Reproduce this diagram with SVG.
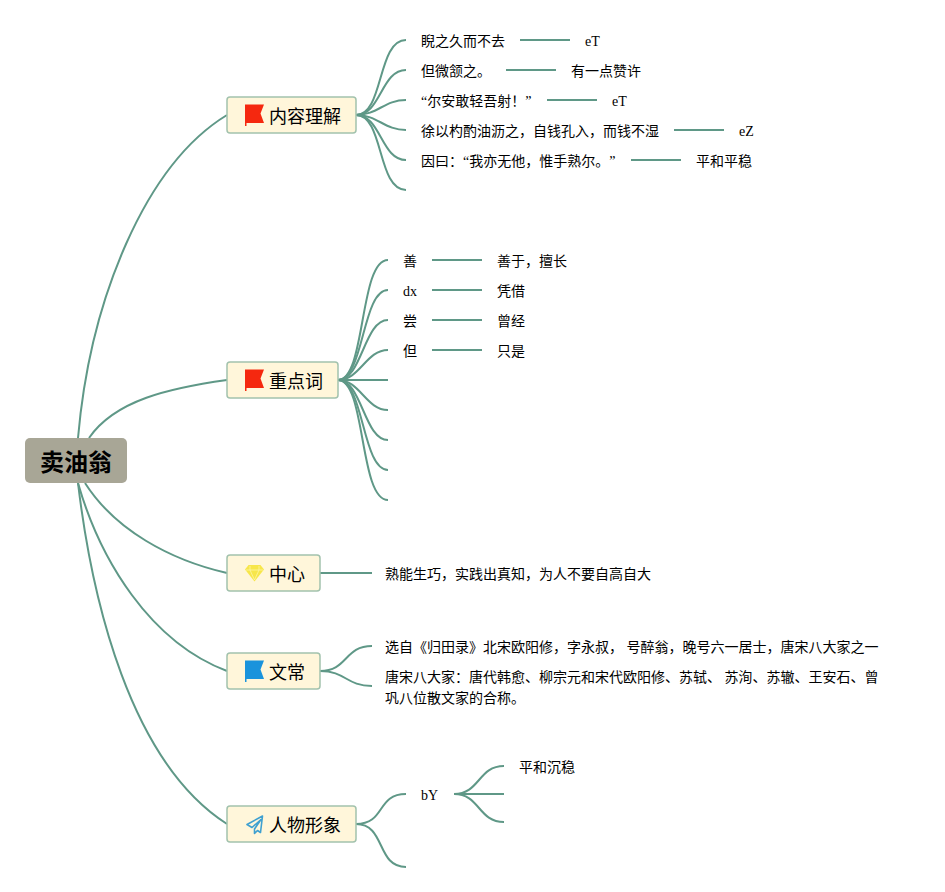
<svg xmlns="http://www.w3.org/2000/svg" width="945" height="892" viewBox="0 0 945 892">
<style>
text{font-family:"Liberation Serif","Noto Sans CJK SC",serif;fill:#000;font-size:14px;text-spacing-trim:space-all}
.t{font-size:18px;font-family:"Noto Sans CJK SC",sans-serif}
.r{font-size:24px;font-weight:700;font-family:"Noto Sans CJK SC",sans-serif;text-anchor:middle}
.n{fill:#fff6da;stroke:#a2c2ad;stroke-width:1.5}
#connectors path{fill:none;stroke:#5f9887;stroke-width:2}
</style>
<rect width="945" height="892" fill="#fff"/>
<g id="connectors">
<path d="M78 438C90 300 145 165 227 115"/>
<path d="M89 438C115 400 170 388 227 380"/>
<path d="M85 483C115 530 170 560 227 573"/>
<path d="M78 483C100 560 150 642 227 671"/>
<path d="M78 483C92 600 130 762 227 824"/>
<path d="M356 115C384 115 377 40 406 40"/>
<path d="M356 115C381 115 381 70 406 70"/>
<path d="M356 115C378 115 384 100 406 100"/>
<path d="M356 115C378 115 384 130 406 130"/>
<path d="M356 115C381 115 381 160 406 160"/>
<path d="M356 115C384 115 377 190 406 190"/>
<path d="M338 380C366 380 359 260 388 260"/>
<path d="M338 380C364 380 362 290 388 290"/>
<path d="M338 380C362 380 364 320 388 320"/>
<path d="M338 380C360 380 366 350 388 350"/>
<path d="M338 380H388"/>
<path d="M338 380C360 380 366 410 388 410"/>
<path d="M338 380C362 380 364 440 388 440"/>
<path d="M338 380C364 380 362 470 388 470"/>
<path d="M338 380C366 380 359 500 388 500"/>
<path d="M320 573H372"/>
<path d="M320 671C348 671 344 646 372 646"/>
<path d="M320 671C346 671 346 686 372 686"/>
<path d="M356 824C386 824 376 794 406 794"/>
<path d="M356 824C386 824 376 867 406 867"/>
<path d="M454 794C480 794 478 766 504 766"/>
<path d="M454 794H504"/>
<path d="M454 794C480 794 478 822 504 822"/>
<path d="M520 40H570"/><path d="M506 70H556"/><path d="M547 100H597"/><path d="M674 130H724"/><path d="M631 160H681"/>
<path d="M432 260H482"/><path d="M432 290H482"/><path d="M432 320H482"/><path d="M432 350H482"/>
</g>
<g id="root"><rect x="25" y="438" width="102" height="45" rx="5" fill="#a8a696"/><text class="r" x="76" y="471">卖油翁</text></g>
<g id="node-content"><rect class="n" x="227" y="97" width="129" height="36" rx="3"/>
<path d="M245 104.500H264L260.500 113.500L264 123H246.500V126H245Z" fill="#f5280f"/><text class="t" x="269" y="123">内容理解</text></g>
<g id="node-keywords"><rect class="n" x="227" y="362" width="111" height="36" rx="3"/>
<path d="M245 369.500H264L260.500 378.500L264 388H246.500V391H245Z" fill="#f5280f"/><text class="t" x="269" y="388">重点词</text></g>
<g id="node-center"><rect class="n" x="227" y="555" width="93" height="36" rx="3"/>
<path d="M248.500 565H260.500L264 569.500L254.500 581.500L245 569.500Z" fill="#f7e64a"/><path d="M246 570H263M250 570L254.500 580L259 570M250 566L250 570M259 566L259 570" fill="none" stroke="#fdf6b0" stroke-width=".7"/><text class="t" x="269" y="581">中心</text></g>
<g id="node-lit"><rect class="n" x="227" y="653" width="93" height="36" rx="3"/>
<path d="M245 660.500H264L260.500 669.500L264 679H246.500V682H245Z" fill="#1a93dc"/><text class="t" x="269" y="679">文常</text></g>
<g id="node-person"><rect class="n" x="227" y="806" width="129" height="36" rx="3"/>
<path d="M262.500 816L247 824.500L252 827.500L261 819.500L254.500 829V833.500L257.500 830.500L260.500 832.500Z" fill="none" stroke="#3fa0d0" stroke-width="1.600" stroke-linejoin="round"/><text class="t" x="269" y="832">人物形象</text></g>
<g id="leaf-content">
<text x="421" y="46">睨之久而不去</text><text x="585" y="46">eT</text>
<text x="421" y="76">但微颔之。</text><text x="571" y="76">有一点赞许</text>
<text x="421" y="106">“尔安敢轻吾射！”</text><text x="612" y="106">eT</text>
<text x="421" y="136">徐以杓酌油沥之，自钱孔入，而钱不湿</text><text x="739" y="136">eZ</text>
<text x="421" y="166">因曰：“我亦无他，惟手熟尔。”</text><text x="696" y="166">平和平稳</text>
</g>
<g id="leaf-keywords">
<text x="403" y="266">善</text><text x="497" y="266">善于，擅长</text>
<text x="403" y="296">dx</text><text x="497" y="296">凭借</text>
<text x="403" y="326">尝</text><text x="497" y="326">曾经</text>
<text x="403" y="356">但</text><text x="497" y="356">只是</text>
</g>
<g id="leaf-center"><text x="385" y="579">熟能生巧，实践出真知，为人不要自高自大</text></g>
<g id="leaf-lit">
<text x="385" y="652">选自《归田录》北宋欧阳修，字永叔， 号醉翁，晚号六一居士，唐宋八大家之一</text>
<text x="385" y="682">唐宋八大家：唐代韩愈、柳宗元和宋代欧阳修、苏轼、 苏洵、苏辙、王安石、曾</text>
<text x="385" y="703">巩八位散文家的合称。</text>
</g>
<g id="leaf-person"><text x="421" y="800">bY</text><text x="519" y="772">平和沉稳</text></g>
</svg>
